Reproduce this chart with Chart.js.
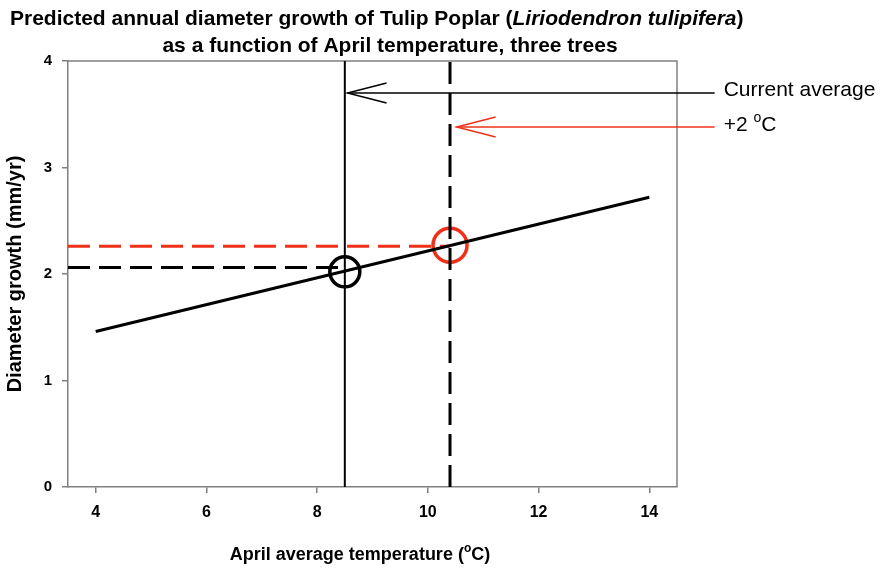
<!DOCTYPE html>
<html>
<head>
<meta charset="utf-8">
<title>Tulip Poplar growth vs April temperature</title>
<script src="https://cdn.jsdelivr.net/npm/chart.js@4.4.1/dist/chart.umd.min.js"></script>
<style>
  body { margin: 0; background: #fff; }
  canvas { display: block; }
</style>
</head>
<body>
<canvas id="chart" width="880" height="569"></canvas>
<script>
// values
const tempTicks = [4, 6, 8, 10, 12, 14];
const growthTicks = [0, 1, 2, 3, 4];
const fitTemps = [4, 14];
const fitGrowth = [1.46, 2.72];
const currentTemp = 8.5;
const warmTemp = 10.4;
const currentLevel = 2.06;
const warmLevel = 2.26;
const circleTemps = [8.5, 10.4];
const circleGrowth = [2.02, 2.27];
const arrowTips = [8.55, 10.52];
const arrowTail = 15.18;
const arrowLevels = [3.70, 3.38];
const arrowLabels = ['Current average', '+2 '];

const RED = '#f0301a';
const AXIS = '#808080';
const FONT = '"Liberation Sans", Arial, sans-serif';

function pts(xs, ys) {
    return xs.map((x, i) => ({ x: x, y: ys[i] }));
}

// texto con partes de distinto estilo (cursiva, superindice)
function drawRich(ctx, parts, x, y, align) {
    let total = 0;
    parts.forEach(p => { ctx.font = p[1]; total += ctx.measureText(p[0]).width; });
    let cx = align === 'center' ? x - total / 2 : x;
    ctx.textAlign = 'left';
    parts.forEach(p => {
        ctx.font = p[1];
        ctx.fillText(p[0], cx, y + (p[2] || 0));
        cx += ctx.measureText(p[0]).width;
    });
}

const decor = {
    id: 'decor',
    beforeDatasetsDraw(chart) {
        const ctx = chart.ctx, a = chart.chartArea;
        ctx.save();
        ctx.strokeStyle = AXIS;
        ctx.lineWidth = 1.5;
        ctx.beginPath();
        ctx.moveTo(a.left, a.top);
        ctx.lineTo(a.right, a.top);
        ctx.lineTo(a.right, a.bottom);
        ctx.stroke();
        ctx.restore();
    },
    afterDraw(chart) {
        const ctx = chart.ctx, a = chart.chartArea;
        const xs = chart.scales.x, ys = chart.scales.y;
        ctx.save();

        // puntas de flecha
        arrowTips.forEach((t, i) => {
            const px = xs.getPixelForValue(t), py = ys.getPixelForValue(arrowLevels[i]);
            ctx.strokeStyle = i === 0 ? '#000' : RED;
            ctx.lineWidth = 1.5;
            ctx.beginPath();
            ctx.moveTo(px + 39, py - 10);
            ctx.lineTo(px, py);
            ctx.lineTo(px + 39, py + 10);
            ctx.stroke();
        });

        ctx.fillStyle = '#000';
        ctx.textBaseline = 'alphabetic';
        const tBold = 'bold 21px ' + FONT;
        const tBoldIt = 'italic bold 21px ' + FONT;
        const bold = 'bold 18px ' + FONT;
        const sup = 'bold 12px ' + FONT;

        // titulo
        drawRich(ctx, [
            ['Predicted annual diameter growth of Tulip Poplar (', tBold],
            ['Liriodendron tulipifera', tBoldIt],
            [')', tBold]
        ], 10, 25, 'left');
        drawRich(ctx, [['as a function of April temperature, three trees', tBold]], 390, 52, 'center');

        // titulo eje x
        drawRich(ctx, [
            ['April average temperature (', bold],
            ['o', sup, -8],
            ['C)', bold]
        ], 360, 560, 'center');

        // titulo eje y
        ctx.save();
        ctx.translate(15, (a.top + a.bottom) / 2);
        ctx.rotate(-Math.PI / 2);
        ctx.font = 'bold 20px ' + FONT;
        ctx.textAlign = 'center';
        ctx.textBaseline = 'middle';
        ctx.fillText('Diameter growth (mm/yr)', 0, 0);
        ctx.restore();

        // etiquetas de las flechas
        const normal = '21px ' + FONT;
        const tx = xs.getPixelForValue(arrowTail) + 9;
        drawRich(ctx, [[arrowLabels[0], normal]], tx, ys.getPixelForValue(arrowLevels[0]) + 3, 'left');
        drawRich(ctx, [
            [arrowLabels[1], normal],
            ['o', '14px ' + FONT, -9],
            ['C', normal]
        ], tx, ys.getPixelForValue(arrowLevels[1]) + 4, 'left');

        ctx.restore();
    }
};

const datasets = [
    {   // regresion
        data: pts(fitTemps, fitGrowth),
        borderColor: '#000', borderWidth: 3, pointRadius: 0
    },
    {   // temperatura actual
        data: pts([currentTemp, currentTemp], [growthTicks[0], growthTicks[growthTicks.length - 1]]),
        borderColor: '#000', borderWidth: 2, pointRadius: 0
    },
    {   // +2 grados
        data: pts([warmTemp, warmTemp], [growthTicks[0], growthTicks[growthTicks.length - 1]]),
        borderColor: '#000', borderWidth: 3, borderDash: [22, 9], pointRadius: 0
    },
    {
        data: pts([3.5, currentTemp], [currentLevel, currentLevel]),
        borderColor: '#000', borderWidth: 3, borderDash: [22, 9], pointRadius: 0
    },
    {
        data: pts([3.5, warmTemp], [warmLevel, warmLevel]),
        borderColor: RED, borderWidth: 3, borderDash: [22, 9], pointRadius: 0
    },
    {   // circulos
        data: pts(circleTemps, circleGrowth),
        showLine: false,
        pointRadius: [15, 17],
        pointHoverRadius: [15, 17],
        pointBorderWidth: 3.5,
        pointBackgroundColor: 'rgba(0,0,0,0)',
        pointBorderColor: ['#000', RED]
    },
    {   // flechas (fuera del area)
        data: pts([arrowTail, arrowTips[0]], [arrowLevels[0], arrowLevels[0]]),
        borderColor: '#000', borderWidth: 1.5, pointRadius: 0, clip: false
    },
    {
        data: pts([arrowTail, arrowTips[1]], [arrowLevels[1], arrowLevels[1]]),
        borderColor: RED, borderWidth: 1.5, pointRadius: 0, clip: false
    }
];

new Chart(document.getElementById('chart'), {
    type: 'line',
    data: { datasets: datasets },
    options: {
        responsive: false,
        animation: false,
        devicePixelRatio: 1,
        layout: { padding: { top: 61, right: 203, left: 0, bottom: 0 } },
        plugins: { legend: { display: false }, tooltip: { enabled: false }, title: { display: false } },
        scales: {
            x: {
                type: 'linear',
                min: 3.5,
                max: 14.5,
                afterBuildTicks: s => { s.ticks = tempTicks.map(v => ({ value: v })); },
                afterFit: s => { s.height = 82; },
                grid: { drawOnChartArea: false, tickLength: 6, color: AXIS, lineWidth: 1.5 },
                border: { color: AXIS, width: 1.5 },
                ticks: { color: '#000', padding: 10, maxRotation: 0, font: { family: FONT, size: 16, weight: 'bold' } }
            },
            y: {
                min: 0,
                max: 4,
                afterBuildTicks: s => { s.ticks = growthTicks.map(v => ({ value: v })); },
                afterFit: s => { s.width = 68; },
                grid: { drawOnChartArea: false, tickLength: 6, color: AXIS, lineWidth: 1.5 },
                border: { color: AXIS, width: 1.5 },
                ticks: { color: '#000', padding: 10, font: { family: FONT, size: 15, weight: 'bold' } }
            }
        }
    },
    plugins: [decor]
});
</script>
</body>
</html>
